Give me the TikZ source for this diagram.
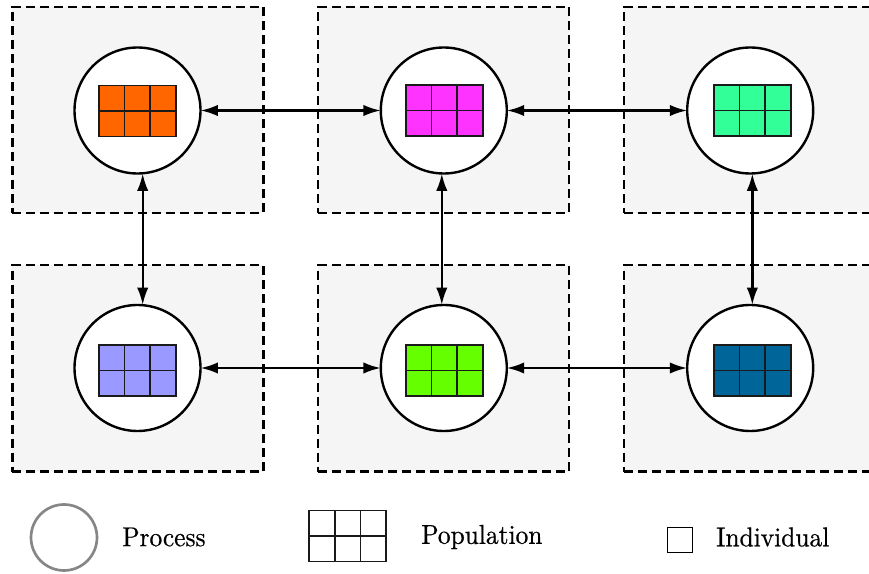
\documentclass[tikz,border=0pt]{standalone}
\usepackage{fontspec}
\newfontfamily\legendfont{lmroman10-regular.otf}[FakeBold=0.5,FakeStretch=0.93]
\usetikzlibrary{arrows.meta}

\definecolor{cellorange}{HTML}{FF6600}
\definecolor{cellmagenta}{HTML}{FF33FF}
\definecolor{cellmint}{HTML}{33FF99}
\definecolor{celllavender}{HTML}{9999FF}
\definecolor{celllime}{HTML}{66FF00}
\definecolor{cellblue}{HTML}{006699}
\definecolor{regionfill}{HTML}{F5F5F5}
\definecolor{gridline}{HTML}{1A1A1A}

\tikzset{
  x=0.75pt, y=-0.75pt,
  region/.style={draw=black, fill=regionfill, line width=1.8pt,
    dash pattern=on 6.75pt off 3.75pt,
    minimum width={251*0.75pt}, minimum height={206.5*0.75pt},
    inner sep=0pt, outer sep=0pt},
  process/.style={circle, draw=black, fill=white, line width=1.8pt,
    minimum size={126*0.75pt}, inner sep=0pt, outer sep=0pt},
  link/.style={line width=1.8pt,
    {Latex[length=13pt,width=8.5pt]}-{Latex[length=13pt,width=8.5pt]}},
  label/.style={font=\legendfont\fontsize{20.5pt}{24pt}\selectfont, anchor=west, inner sep=0pt},
  population/.pic={
    \draw[gridline, line width=1.2pt, fill=#1] (-38.5,-25.5) rectangle (38.5,25.5);
    \draw[gridline, line width=1.2pt] (-12.8,-25.5) -- (-12.8,25.5)
      (12.8,-25.5) -- (12.8,25.5) (-38.5,0) -- (38.5,0);
  }
}

\begin{document}
\begin{tikzpicture}
\clip (0,0) rectangle (869,574);

% process regions
\node[region] (r1) at (137.8,110) {};
\node[region] (r2) at (443.5,110) {};
\node[region] (r3) at (749.6,110) {};
\node[region] (r4) at (137.8,368.3) {};
\node[region] (r5) at (443.5,368.3) {};
\node[region] (r6) at (749.6,368.3) {};

% processes
\node[process] (p1) at (137.5,110.5) {};
\node[process] (p2) at (443.8,110.5) {};
\node[process] (p3) at (750.2,110.5) {};
\node[process] (p4) at (137.5,368) {};
\node[process] (p5) at (443.8,368) {};
\node[process] (p6) at (750.2,368) {};

% populations
\pic at (137.3,111) {population=cellorange};
\pic at (444.3,110.5) {population=cellmagenta};
\pic at (752.3,110.5) {population=cellmint};
\pic at (137.3,370.5) {population=celllavender};
\pic at (444.3,370.5) {population=celllime};
\pic at (752.3,370.5) {population=cellblue};

% migration links
\draw[link] (p1) -- (p2);
\draw[link] (p2) -- (p3);
\draw[link] (p4) -- (p5);
\draw[link] (p5) -- (p6);
\draw[link] ([xshift=3.9pt]p1.south) -- ([xshift=3.9pt]p4.north);
\draw[link] ([xshift=-1.5pt]p2.south) -- ([xshift=-1.5pt]p5.north);
\draw[link] ([xshift=1.6pt]p3.south) -- ([xshift=1.6pt]p6.north);

% legend
\node[circle, draw=gray!95, line width=2pt, minimum size={66*0.75pt},
  inner sep=0pt] (lp) at (64,537.5) {};
\node[label] (tp) at (122,537) {Process};
\pic at (347.5,536) {population=white};
\node[label] (tpop) at (421,537) {Population};
\node[draw=black, line width=0.75pt, minimum size={25*0.75pt}, inner sep=0pt]
  (li) at (679.5,539.5) {};
\node[label] (ti) at (716,537) {Individual};
\end{tikzpicture}
\end{document}
